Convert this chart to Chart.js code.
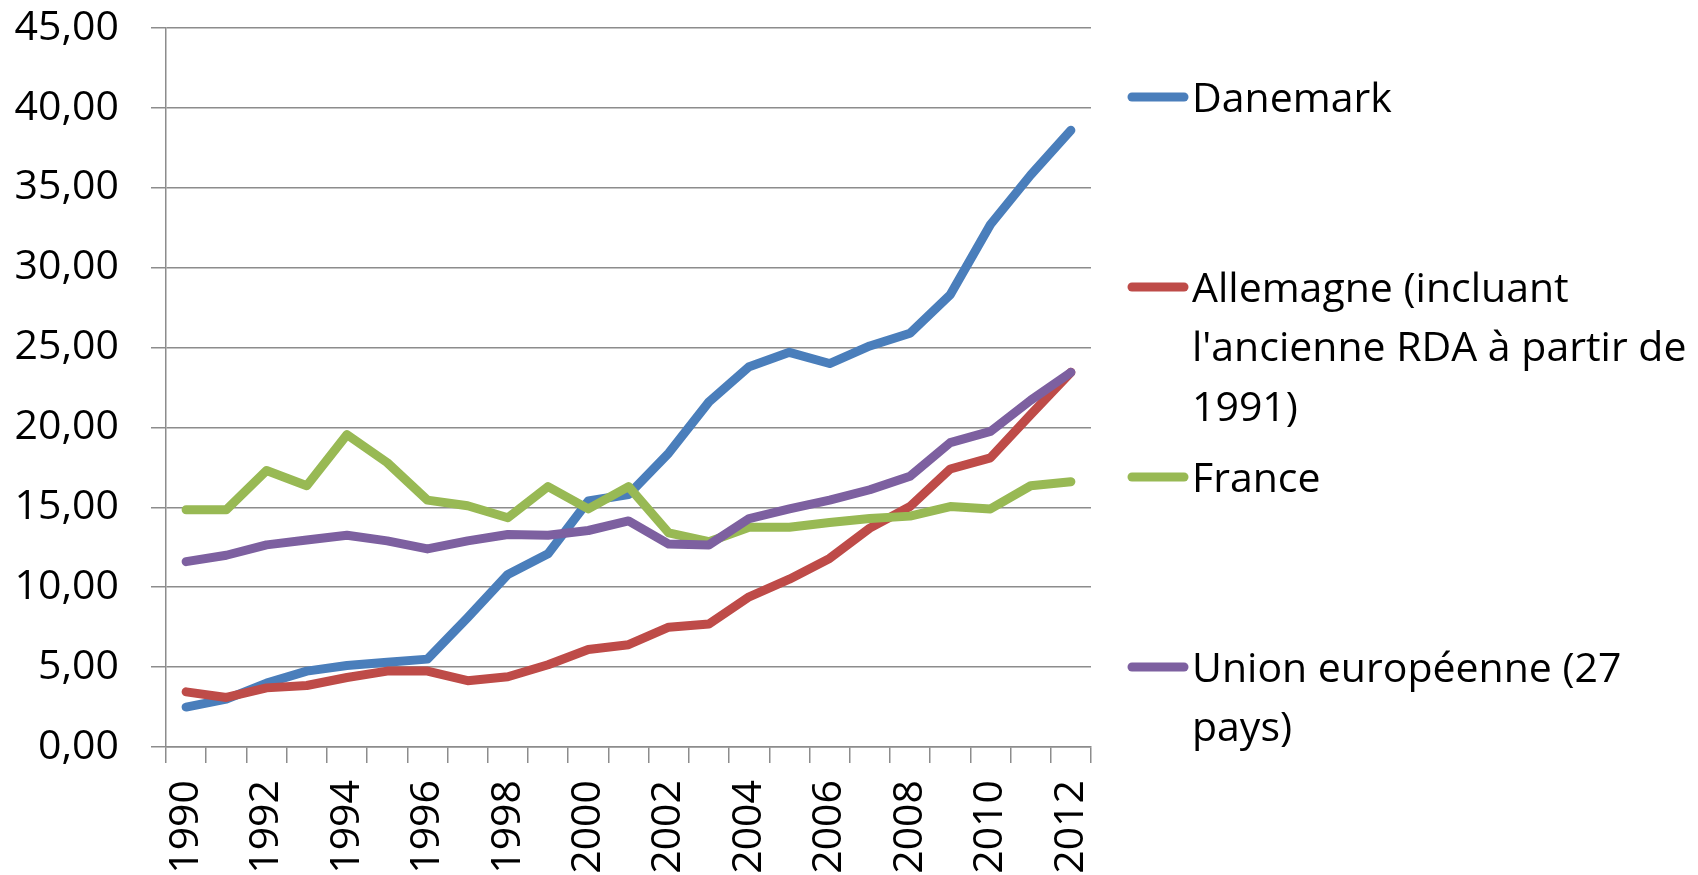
<!DOCTYPE html>
<html lang="fr">
<head>
<meta charset="utf-8">
<title>Danemark, Allemagne, France, UE</title>
<script src="https://cdn.jsdelivr.net/npm/chart.js@4.4.1/dist/chart.umd.min.js"></script>
<style>
    html, body { margin: 0; padding: 0; background: #fff; }
    #wrap { width: 1698px; height: 875px; position: relative; }
</style>
</head>
<body>
<div id="wrap"><canvas id="chart" width="1698" height="875"></canvas></div>
<script>
// Données
const years = ['1990', '1991', '1992', '1993', '1994', '1995', '1996', '1997', '1998', '1999', '2000',
    '2001', '2002', '2003', '2004', '2005', '2006', '2007', '2008', '2009', '2010', '2011', '2012'];

const danemark = [2.5, 3.0, 4.0, 4.75, 5.1, 5.3, 5.5, 8.1, 10.8, 12.1, 15.4, 15.8,
    18.4, 21.6, 23.8, 24.7, 24.0, 25.1, 25.9, 28.3, 32.7, 35.8, 38.6];
const allemagne = [3.45, 3.1, 3.7, 3.85, 4.35, 4.75, 4.75, 4.15, 4.4, 5.15, 6.1, 6.4,
    7.5, 7.7, 9.4, 10.5, 11.8, 13.7, 15.05, 17.4, 18.1, 20.8, 23.45];
const france = [14.85, 14.85, 17.3, 16.35, 19.55, 17.8, 15.45, 15.1, 14.35, 16.3, 14.9, 16.3,
    13.4, 12.85, 13.75, 13.75, 14.05, 14.3, 14.45, 15.05, 14.9, 16.35, 16.6];
const ue27 = [11.6, 12.0, 12.65, 12.95, 13.25, 12.9, 12.4, 12.9, 13.3, 13.25, 13.55, 14.15,
    12.7, 12.65, 14.3, 14.9, 15.45, 16.1, 16.95, 19.05, 19.75, 21.7, 23.45];

const seriesLabels = [
    ['Danemark'],
    ['Allemagne (incluant', "l'ancienne RDA à partir de", '1991)'],
    ['France'],
    ['Union européenne (27', 'pays)']
];
const seriesColors = ['#4a7ebb', '#be4b48', '#98b954', '#7d60a0'];
const yTicks = [0, 5, 10, 15, 20, 25, 30, 35, 40, 45];

const FONT = "'Open Sans', 'Noto Sans', sans-serif";
const GRID = '#8c8c8c';

// Légende dessinée à la main (à droite, comme dans Excel)
const sideLegend = {
    id: 'sideLegend',
    afterDraw(chart) {
        const ctx = chart.ctx;
        const x0 = 1132, x1 = 1184, textX = 1192;
        const firstY = 97, step = 190, lineH = 59.5;
        ctx.save();
        ctx.font = '41px ' + FONT;
        ctx.textBaseline = 'alphabetic';
        ctx.textAlign = 'left';
        chart.data.datasets.forEach((ds, i) => {
            const y = firstY + step * i;
            ctx.strokeStyle = ds.borderColor;
            ctx.lineWidth = 9;
            ctx.lineCap = 'round';
            ctx.beginPath();
            ctx.moveTo(x0, y);
            ctx.lineTo(x1, y);
            ctx.stroke();
            ctx.fillStyle = '#000';
            seriesLabels[i].forEach((line, k) => {
                ctx.fillText(line, textX, y + 14.5 + k * lineH);
            });
        });
        ctx.restore();
    }
};

const allSeries = [danemark, allemagne, france, ue27];

const chart = new Chart(document.getElementById('chart'), {
    type: 'line',
    data: {
        labels: years,
        datasets: allSeries.map((values, i) => ({
            label: seriesLabels[i].join(' '),
            data: values,
            borderColor: seriesColors[i],
            backgroundColor: seriesColors[i],
            borderWidth: 9,
            borderCapStyle: 'round',
            borderJoinStyle: 'round',
            pointRadius: 0,
            tension: 0,
            order: allSeries.length - i
        }))
    },
    options: {
        responsive: false,
        animation: false,
        devicePixelRatio: 1,
        layout: { padding: { top: 28, right: 607, left: 0, bottom: 0 } },
        plugins: {
            legend: { display: false },
            tooltip: { enabled: false }
        },
        scales: {
            x: {
                offset: true,
                grid: {
                    offset: true,
                    drawOnChartArea: false,
                    drawTicks: true,
                    tickLength: 16,
                    color: GRID,
                    lineWidth: 1.5
                },
                border: { color: GRID, width: 1.5 },
                ticks: {
                    autoSkip: false,
                    minRotation: 90,
                    maxRotation: 90,
                    padding: 17,
                    color: '#000',
                    font: { family: FONT, size: 41 },
                    callback: function (value, index) {
                        return index % 2 === 0 ? this.getLabelForValue(value) : '';
                    }
                },
                afterFit: function (scale) { scale.height = 128; }
            },
            y: {
                min: 0,
                max: 45,
                afterBuildTicks: function (scale) {
                    scale.ticks = yTicks.map(v => ({ value: v }));
                },
                grid: {
                    color: GRID,
                    lineWidth: 1.5,
                    tickLength: 15
                },
                border: { color: GRID, width: 1.5 },
                ticks: {
                    padding: 32,
                    color: '#000',
                    font: { family: FONT, size: 41 },
                    callback: function (value) {
                        return value.toFixed(2).replace('.', ',');
                    }
                },
                afterFit: function (scale) {
                    scale.width = 166;
                    // pas de marge en plus au-dessus de l'étiquette 45,00
                    scale.paddingTop = 0;
                    scale.paddingBottom = 0;
                }
            }
        }
    },
    plugins: [sideLegend]
});
</script>
</body>
</html>
